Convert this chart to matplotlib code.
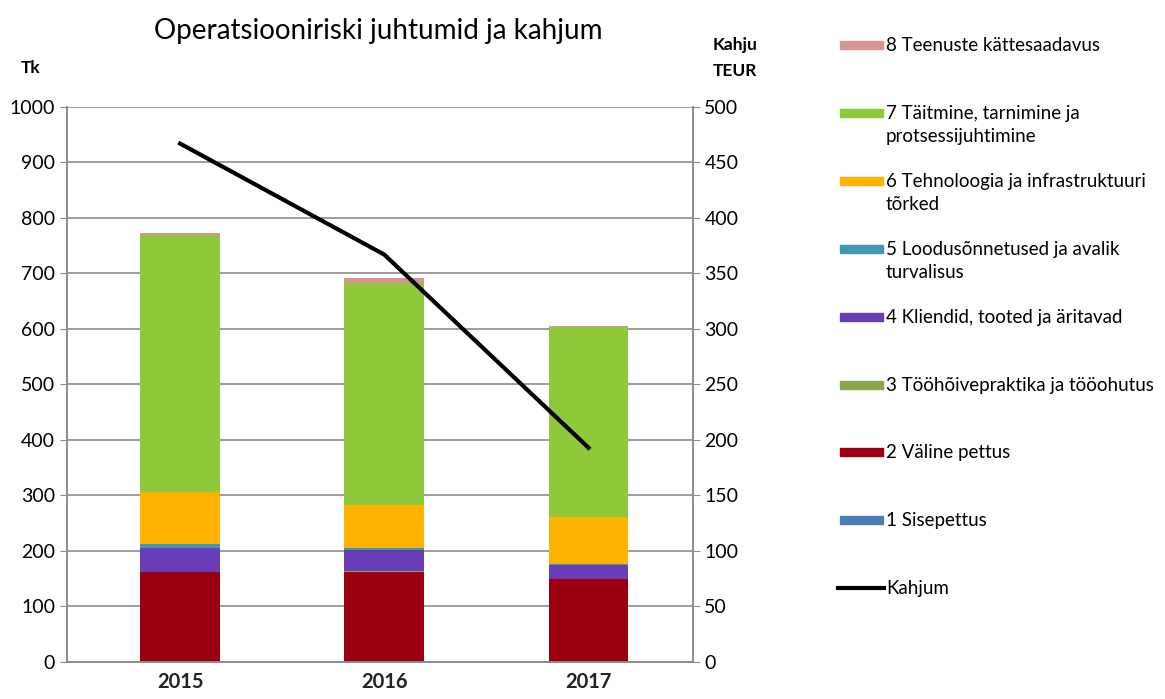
import matplotlib.pyplot as plt
from matplotlib.patches import Rectangle
from matplotlib.lines import Line2D

plt.rcParams['font.family'] = ['Lato', 'DejaVu Sans']

# Andmed
years = ["2015", "2016", "2017"]
s1_sisepettus = [0, 0, 0]
s2_valine = [162, 162, 150]
s3_toohoive = [0, 1, 0]
s4_kliendid = [44, 38, 24]
s5_loodus = [7, 4, 3]
s6_tehnoloogia = [94, 78, 84]
s7_taitmine = [463, 400, 342]
s8_teenused = [2, 8, 2]
kahjum = [467, 367, 193]

series = [
    ("1 Sisepettus", s1_sisepettus, "#4a7db5"),
    ("2 Väline pettus", s2_valine, "#9c0010"),
    ("3 Tööhõivepraktika ja tööohutus", s3_toohoive, "#8aa64a"),
    ("4 Kliendid, tooted ja äritavad", s4_kliendid, "#6a3db8"),
    ("5 Loodusõnnetused ja avalik\nturvalisus", s5_loodus, "#4298b0"),
    ("6 Tehnoloogia ja infrastruktuuri\ntõrked", s6_tehnoloogia, "#ffb300"),
    ("7 Täitmine, tarnimine ja\nprotsessijuhtimine", s7_taitmine, "#8dc93a"),
    ("8 Teenuste kättesaadavus", s8_teenused, "#d69594"),
]

fig = plt.figure(figsize=(11.65, 6.99), dpi=100)
ax = fig.add_axes([0.0575, 0.053, 0.537, 0.794])
ax2 = ax.twinx()

x = range(len(years))
bottom = [0, 0, 0]
for name, vals, col in series:
    ax.bar(x, vals, width=0.39, bottom=bottom, color=col, zorder=2)
    bottom = [b + v for b, v in zip(bottom, vals)]

ax2.plot(x, kahjum, color="black", lw=3, zorder=3)

ax.set_xlim(-0.554, 2.51)
ax.set_ylim(0, 1000)
ax.set_yticks(range(0, 1001, 100))
ax2.set_ylim(0, 500)
ax2.set_yticks(range(0, 501, 50))
ax.set_xticks(list(x))
ax.set_xticklabels(years, fontsize=14.5, fontweight="bold", color="#222222")
ax.yaxis.grid(True, color="#8c8c8c", lw=1.2, zorder=0)
ax.set_axisbelow(True)
for a in (ax, ax2):
    a.tick_params(axis="y", labelsize=14, length=5, color="#8c8c8c")
    a.tick_params(axis="x", length=0, pad=7)
    a.spines["top"].set_visible(False)
    for s in ("left", "right", "bottom"):
        a.spines[s].set_color("#8c8c8c")
        a.spines[s].set_linewidth(1.2)
ax2.set_zorder(ax.get_zorder() + 1)

fig.text(0.325, 0.955, "Operatsiooniriski juhtumid ja kahjum", ha="center", va="center",
         fontsize=20)
fig.text(0.026, 0.903, "Tk", ha="center", va="center", fontsize=12.5, fontweight="bold")
fig.text(0.631, 0.936, "Kahju", ha="center", va="center", fontsize=12.5, fontweight="bold")
fig.text(0.631, 0.899, "TEUR", ha="center", va="center", fontsize=12.5, fontweight="bold")

# Legend käsitsi
y0 = 45
step = 67.9
for i, (name, vals, col) in enumerate(reversed(series)):
    yp = y0 + i * step
    fig.patches.append(Rectangle((840 / 1165, 1 - (yp + 4) / 699), 43 / 1165, 8 / 699,
                                 transform=fig.transFigure, color=col))
    fig.text(886 / 1165, 1 - (yp - 8) / 699, name, ha="left", va="top", fontsize=13.5,
             linespacing=1.45)
yp = y0 + 8 * step
fig.lines.append(Line2D([838 / 1165, 884 / 1165], [1 - yp / 699, 1 - yp / 699],
                        transform=fig.transFigure, color="black", lw=3))
fig.text(886 / 1165, 1 - (yp - 8) / 699, "Kahjum", ha="left", va="top", fontsize=13.5)

fig.savefig("out.png", dpi=100)
